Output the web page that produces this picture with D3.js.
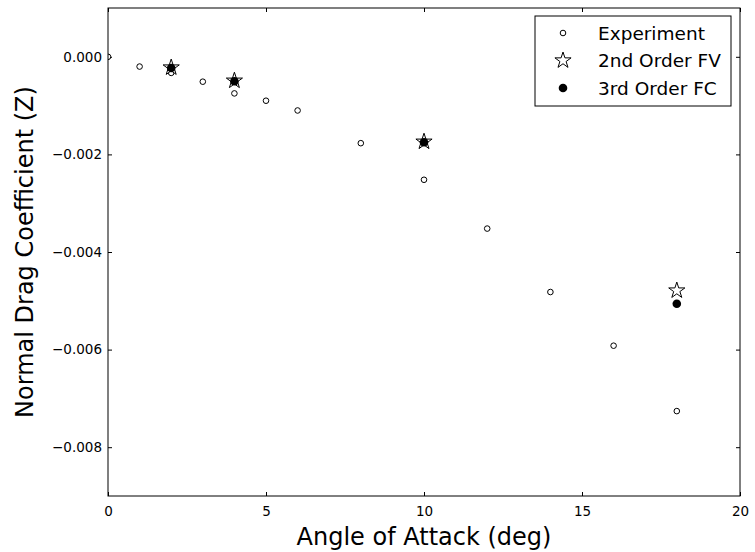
<!DOCTYPE html>
<html>
<head>
<meta charset="utf-8">
<script src="https://cdn.jsdelivr.net/npm/d3@7"></script>
<style>
  body { margin: 0; background: #fff; }
  text { font-family: "DejaVu Sans", sans-serif; fill: #000; }
</style>
</head>
<body>
<div id="chart"></div>
<script>
// angle of attack (deg)
var expAngle = [0, 1, 2, 3, 4, 5, 6, 8, 10, 12, 14, 16, 18];
var expCz    = [0, -0.0002, -0.00033, -0.00051, -0.00075, -0.0009, -0.0011, -0.00177, -0.00252, -0.00352, -0.00482, -0.00592, -0.00726];

var fvAngle = [2, 4, 10, 18];
var fvCz    = [-0.00022, -0.00049, -0.00174, -0.00479];

var fcAngle = [2, 4, 10, 18];
var fcCz    = [-0.00023, -0.0005, -0.00175, -0.00506];

var xTicks = [0, 5, 10, 15, 20];
var yTicks = [0, -0.002, -0.004, -0.006, -0.008];
var legendLabels = ["Experiment", "2nd Order FV", "3rd Order FC"];

var W = 755, H = 552;
var margin = { top: 8, right: 15, bottom: 56, left: 108 };
var width = W - margin.left - margin.right,
    height = H - margin.top - margin.bottom;

var svg = d3.select("#chart").append("svg")
    .attr("width", W)
    .attr("height", H);

var g = svg.append("g")
    .attr("transform", `translate(${margin.left},${margin.top})`);

var x = d3.scaleLinear().domain([0, 20]).range([0, width]);
var y = d3.scaleLinear().domain([-0.009, 0.001]).range([height, 0]);

g.append("clipPath").attr("id", "clip")
  .append("rect").attr("width", width).attr("height", height);

// matplotlib-like star path
function star(R) {
  var r = R * 0.381966, p = [];
  for (var i = 0; i < 10; i++) {
    var a = -Math.PI / 2 + i * Math.PI / 5, rr = i % 2 ? r : R;
    p.push([rr * Math.cos(a), rr * Math.sin(a)]);
  }
  return "M" + p.join("L") + "Z";
}

var tickFmt = d => d === 0 ? "0.000" : "\u2212" + d3.format(".3f")(-d);

// axes with inward ticks on all four sides
g.append("g")
    .attr("transform", `translate(0,${height})`)
    .call(d3.axisBottom(x).tickValues(xTicks).tickSizeInner(-4).tickSizeOuter(0).tickPadding(10))
    .call(a => a.selectAll("text").attr("font-size", 13.5));
g.append("g")
    .call(d3.axisTop(x).tickValues(xTicks).tickSizeInner(-4).tickSizeOuter(0).tickFormat(""));
g.append("g")
    .call(d3.axisLeft(y).tickValues(yTicks).tickSizeInner(-4).tickSizeOuter(0).tickPadding(6).tickFormat(tickFmt))
    .call(a => a.selectAll("text").attr("font-size", 13.5));
g.append("g")
    .attr("transform", `translate(${width},0)`)
    .call(d3.axisRight(y).tickValues(yTicks).tickSizeInner(-4).tickSizeOuter(0).tickFormat(""));

g.selectAll(".domain").remove();
g.selectAll(".tick text").attr("font-family", "DejaVu Sans").attr("fill", "#000");
g.selectAll(".tick line").attr("stroke", "#000");

var plot = g.append("g").attr("clip-path", "url(#clip)");

plot.selectAll(".exp")
  .data(expAngle)
  .join("circle")
    .attr("class", "exp")
    .attr("cx", d => x(d))
    .attr("cy", (d, i) => y(expCz[i]))
    .attr("r", 2.8)
    .attr("fill", "#fff")
    .attr("stroke", "#000")
    .attr("stroke-width", 1);

plot.selectAll(".fv")
  .data(fvAngle)
  .join("path")
    .attr("class", "fv")
    .attr("transform", (d, i) => `translate(${x(d)},${y(fvCz[i])})`)
    .attr("d", star(8.5))
    .attr("fill", "#fff")
    .attr("stroke", "#000")
    .attr("stroke-width", 1);

plot.selectAll(".fc")
  .data(fcAngle)
  .join("circle")
    .attr("class", "fc")
    .attr("cx", d => x(d))
    .attr("cy", (d, i) => y(fcCz[i]))
    .attr("r", 4.3)
    .attr("fill", "#000");

// frame
g.append("rect")
    .attr("width", width)
    .attr("height", height)
    .attr("fill", "none")
    .attr("stroke", "#000")
    .attr("stroke-width", 1);

// axis labels
svg.append("text")
    .attr("x", margin.left + width / 2)
    .attr("y", H - 7)
    .attr("text-anchor", "middle")
    .attr("font-size", 24)
    .text("Angle of Attack (deg)");

svg.append("text")
    .attr("transform", `translate(33,${margin.top + height / 2}) rotate(-90)`)
    .attr("text-anchor", "middle")
    .attr("font-size", 24)
    .text("Normal Drag Coefficient (Z)");

// legend
var lg = g.append("g").attr("transform", `translate(${width - 205},8)`);
lg.append("rect")
    .attr("width", 196)
    .attr("height", 90)
    .attr("fill", "#fff")
    .attr("stroke", "#000")
    .attr("stroke-width", 1);

var row = lg.selectAll(".row")
  .data(legendLabels)
  .join("g")
    .attr("class", "row")
    .attr("transform", (d, i) => `translate(28,${17 + i * 27.5})`);

row.filter((d, i) => i === 0).append("circle")
    .attr("r", 2.8).attr("fill", "#fff").attr("stroke", "#000");
row.filter((d, i) => i === 1).append("path")
    .attr("d", star(8.5)).attr("fill", "#fff").attr("stroke", "#000");
row.filter((d, i) => i === 2).append("circle")
    .attr("r", 4.3).attr("fill", "#000");

row.append("text")
    .attr("x", 35)
    .attr("dy", "0.36em")
    .attr("font-size", 18.5)
    .text(d => d);
</script>
</body>
</html>
